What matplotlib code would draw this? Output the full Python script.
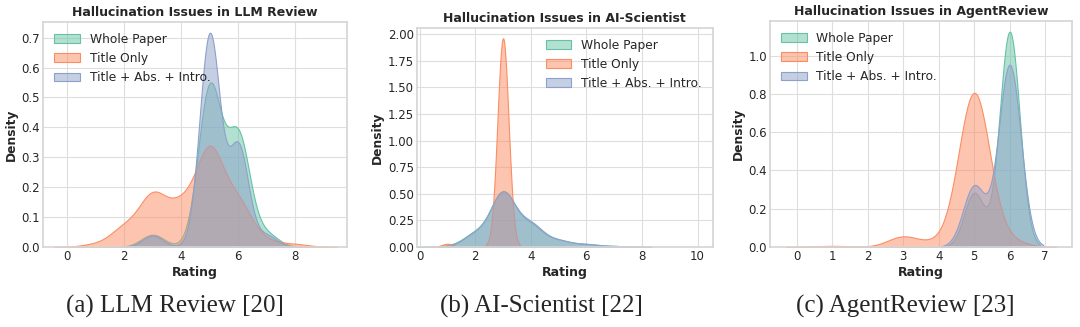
import numpy as np
import matplotlib
matplotlib.use("Agg")
import matplotlib.pyplot as plt
import seaborn as sns

sns.set_theme(style="whitegrid", rc={"grid.color": "#dedede", "grid.linewidth": 0.8,
                                     "axes.edgecolor": "#d6d6d6"})
plt.rcParams['font.family'] = ['DejaVu Sans']

labels = ["Whole Paper", "Title Only", "Title + Abs. + Intro."]
colors = sns.color_palette("Set2", 3)

# rating values and how many reviews ended up at each value
llm_ratings = [1, 2, 3, 4, 5, 6, 7, 8]
llm_whole = [0, 0, 1, 0, 13, 9, 1, 0]
llm_title = [1, 7, 19, 14, 36, 16, 2, 1]
llm_tai = [0, 0, 1, 0, 19, 9, 1, 0]

sci_ratings = [1, 2, 3, 4, 5, 6, 7, 8]
sci_whole = [1, 15, 64, 24, 7, 3, 1, 0]
sci_title = [1, 0, 66, 0, 0, 0, 0, 0]
sci_tai = [0, 14, 62, 25, 7, 3, 1, 0]

agent_ratings = [1, 2, 3, 4, 5, 6, 7]
agent_whole = [0, 0, 0, 0, 1, 4, 0]
agent_title = [1, 0, 10, 4, 150, 6, 0]
agent_tai = [0, 0, 0, 0, 1, 3, 0]

titles = ["Hallucination Issues in LLM Review",
          "Hallucination Issues in AI-Scientist",
          "Hallucination Issues in AgentReview"]
captions = ["(a) LLM Review [20]", "(b) AI-Scientist [22]", "(c) AgentReview [23]"]

panels = [
    (llm_ratings, [llm_whole, llm_title, llm_tai]),
    (sci_ratings, [sci_whole, sci_title, sci_tai]),
    (agent_ratings, [agent_whole, agent_title, agent_tai]),
]

# smoothing per curve
bw = [[1.0, 0.9, 1.0], [1.2, 1.9, 1.22], [0.875, 2.0, 0.83]]

boxes = [[0.040, 0.245, 0.281, 0.688],
         [0.386, 0.245, 0.274, 0.670],
         [0.713, 0.245, 0.280, 0.691]]
caption_x = [0.162, 0.501, 0.838]
xlims = [(-0.84, 9.8), (-0.1, 10.55), (-0.76, 7.77)]
xticks = [[0, 2, 4, 6, 8], [0, 2, 4, 6, 8, 10], [0, 1, 2, 3, 4, 5, 6, 7]]
legend_loc = ["upper left", "upper right", "upper left"]

fig = plt.figure(figsize=(10.8, 3.27), dpi=100)

for i, (ratings, groups) in enumerate(panels):
    ax = fig.add_axes(boxes[i])
    for j, counts in enumerate(groups):
        data = np.repeat(ratings, counts)
        sns.kdeplot(x=data, fill=True, alpha=0.5, color=colors[j], label=labels[j],
                    bw_adjust=bw[i][j], linewidth=0.8, ax=ax)
    ax.set_xlim(xlims[i])
    ax.set_xticks(xticks[i])
    ax.set_title(titles[i], fontsize=9, fontweight="bold", pad=4)
    ax.set_xlabel("Rating", fontsize=9, fontweight="bold", labelpad=2)
    ax.set_ylabel("Density", fontsize=8.8, fontweight="bold", labelpad=2.5)
    ax.tick_params(labelsize=8.5, pad=2.2, length=0)
    ax.legend(loc=legend_loc[i], fontsize=8.8, frameon=False, handlelength=2.1)
    fig.text(caption_x[i], 0.062, captions[i], ha="center", va="center",
             fontsize=18, family="Liberation Serif")

fig.savefig("out.png", dpi=100)
